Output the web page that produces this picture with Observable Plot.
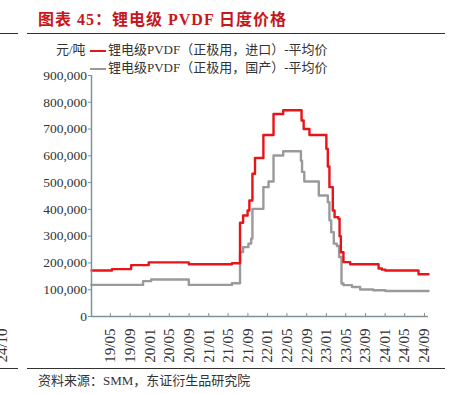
<!DOCTYPE html>
<html><head><meta charset="utf-8">
<script src="https://cdn.jsdelivr.net/npm/d3@7"></script>
<script src="https://cdn.jsdelivr.net/npm/@observablehq/plot@0.6"></script>
<style>
body{margin:0;width:461px;height:394px;position:relative;overflow:hidden;background:#fff;font-family:"Liberation Serif","Noto Sans CJK SC",serif;color:#333}
#chart{position:absolute;left:0;top:0}
.abs{position:absolute;white-space:nowrap}
.rule{position:absolute;height:0;border-top:1px solid #333}
.sw{display:inline-block;width:16px;height:0;vertical-align:middle;margin-right:2px}
</style></head><body>
<div id="chart"></div>
<div class="abs" style="left:38px;top:9px;font-size:16px;line-height:22px;font-weight:bold;color:#c8161d;letter-spacing:1px;font-family:'Liberation Serif','Noto Sans CJK SC',serif">图表 45：锂电级 PVDF 日度价格</div>
<div class="rule" style="left:0;top:33px;width:18px"></div>
<div class="rule" style="left:27px;top:33px;width:418px"></div>
<div class="abs" style="left:56px;top:41px;font-size:13px;line-height:18px">元/吨</div>
<div class="abs" id="leg" style="left:90px;top:41px;font-size:13px;line-height:18px"></div>
<div class="rule" style="left:0;top:368px;width:18px"></div>
<div class="rule" style="left:27px;top:368px;width:418px"></div>
<div class="abs" style="left:38px;top:372px;font-size:13px;line-height:18px">资料来源：SMM，东证衍生品研究院</div>
<div class="abs" style="left:-15px;top:338px;font-size:15px;line-height:15px;transform:rotate(-90deg);transform-origin:center">24/10</div>
<script>
const seriesNames = ["锂电级PVDF（正极用，进口）-平均价", "锂电级PVDF（正极用，国产）-平均价"];
const seriesColors = ["#e8141a", "#9a9a9a"];

const importDates = ["2019-01-04","2019-05-11","2019-09-07","2019-12-25","2020-08-30","2021-05-25","2021-07-14","2021-08-02","2021-08-30","2021-09-10","2021-09-29","2021-10-15","2021-12-06","2022-02-07","2022-04-08","2022-07-31","2022-08-13","2022-09-18","2023-01-01","2023-01-10","2023-01-20","2023-02-10","2023-02-21","2023-03-17","2023-03-24","2023-04-01","2023-04-17","2023-05-29","2023-11-21","2023-12-12","2024-01-02","2024-07-26","2024-09-26"];
const importPrices = [172000,177000,192000,202000,195000,199000,350000,377000,396000,433000,533000,592000,678000,756000,770000,732000,700000,678000,626000,560000,483000,396000,371000,365000,300000,240000,203000,195000,179000,175000,172000,158000,158000];

const domesticDates = ["2019-01-04","2019-11-20","2020-01-09","2020-08-30","2021-05-25","2021-07-14","2021-08-02","2021-09-04","2021-09-21","2021-09-29","2021-12-06","2022-01-07","2022-02-07","2022-04-08","2022-07-27","2022-08-03","2022-08-17","2022-11-15","2023-01-10","2023-01-20","2023-01-31","2023-02-16","2023-03-07","2023-03-21","2023-04-05","2023-04-17","2023-06-09","2023-07-30","2023-10-19","2024-01-02","2024-09-26"];
const domesticPrices = [118000,132000,138000,118000,124000,241000,259000,272000,291000,402000,483000,504000,601000,617000,582000,540000,504000,452000,427000,359000,315000,272000,263000,222000,123000,117000,110000,101000,98000,95000,95000];

const xTicks = ["2019-05-01","2019-09-01","2020-01-01","2020-05-01","2020-09-01","2021-01-01","2021-05-01","2021-09-01","2022-01-01","2022-05-01","2022-09-01","2023-01-01","2023-05-01","2023-09-01","2024-01-01","2024-05-01","2024-09-01"];
const yTicks = [0,100000,200000,300000,400000,500000,600000,700000,800000,900000];
const xDomain = ["2019-01-04","2024-09-26"];

const parse = d3.utcParse("%Y-%m-%d");
const rows = [
  ...importDates.map((d,i)=>({date:parse(d), value:importPrices[i], series:seriesNames[0]})),
  ...domesticDates.map((d,i)=>({date:parse(d), value:domesticPrices[i], series:seriesNames[1]}))
];
const ticks = xTicks.map(parse);
const axisColor = "#7d9494";

const chart = Plot.plot({
  width: 461, height: 394,
  marginLeft: 91, marginRight: 33, marginTop: 75, marginBottom: 78,
  style: {fontFamily: "'Liberation Serif', serif", fontSize: "13.5px", color: "#333", background: "transparent"},
  x: {type: "utc", domain: xDomain.map(parse)},
  y: {domain: [0, 900000]},
  color: {domain: seriesNames, range: seriesColors},
  marks: [
    Plot.line(rows.filter(r=>r.series===seriesNames[1]), {x:"date", y:"value", stroke:"series", strokeWidth:2.4, curve:"step-after"}),
    Plot.line(rows.filter(r=>r.series===seriesNames[0]), {x:"date", y:"value", stroke:"series", strokeWidth:2.4, curve:"step-after"}),
    Plot.ruleY([0], {stroke: axisColor, strokeWidth: 1.5}),
    Plot.ruleX([parse(xDomain[0])], {stroke: axisColor, strokeWidth: 1.5}),
    Plot.axisX(ticks, {tickSize: -3, stroke: axisColor, tickFormat: () => "", label: null}),
    Plot.axisX(ticks, {tickSize: 0, tickPadding: 12, tickRotate: -90, tickFormat: d3.utcFormat("%y/%m"), fill: "#333", fontSize: 15, label: null}),
    Plot.axisY(yTicks, {tickSize: 3, stroke: axisColor, tickFormat: () => "", label: null}),
    Plot.axisY(yTicks, {tickSize: 0, tickPadding: 4.5, tickFormat: d3.format(","), fill: "#333", label: null})
  ]
});
document.getElementById("chart").appendChild(chart);

const leg = document.getElementById("leg");
seriesNames.forEach((n,i)=>{
  const row = document.createElement("div");
  row.innerHTML = `<span class="sw" style="border-top:2.5px solid ${seriesColors[i]}"></span>${n}`;
  leg.appendChild(row);
});
</script>
</body></html>
